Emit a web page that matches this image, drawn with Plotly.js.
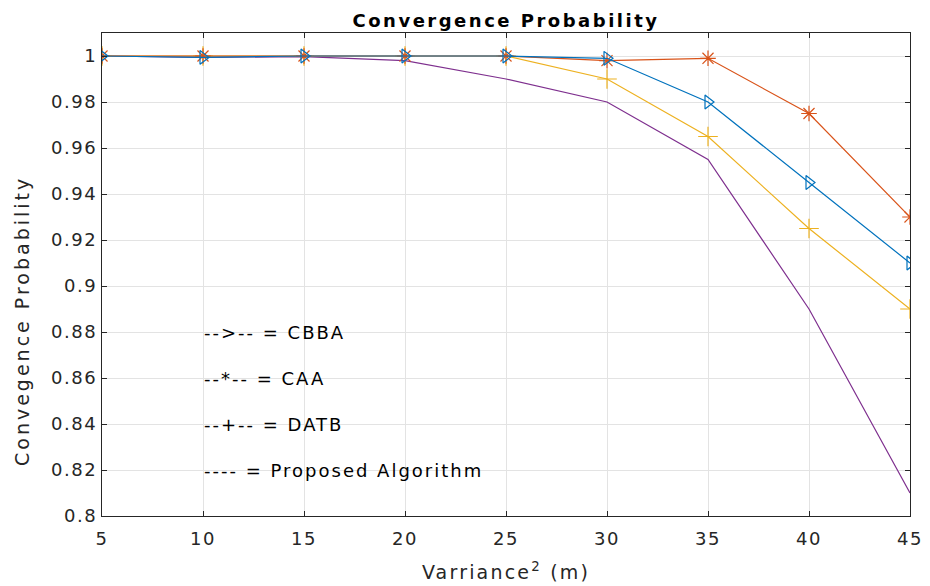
<!DOCTYPE html>
<html>
<head>
<meta charset="utf-8">
<script src="https://cdn.plot.ly/plotly-3.0.1.min.js"></script>
<style>
html,body{margin:0;padding:0;background:#fff;}
#chart{width:930px;height:586px;}
#chart .xtick text, #chart .ytick text{letter-spacing:1.6px;}
#chart text[data-unformatted*=" = "]{letter-spacing:2px;}
#chart text[data-unformatted*="Convergence"]{letter-spacing:2.5px;}
#chart text[data-unformatted^="Varriance"]{letter-spacing:2.2px;}
#chart text[data-unformatted^="Convegence"]{letter-spacing:3px;}
</style>
</head>
<body>
<div id="chart"></div>
<script>
const variance = [5, 10, 15, 20, 25, 30, 35, 40, 45];
const cbba     = [1, 0.9994, 1, 1, 1, 0.999, 0.98, 0.945, 0.91];
const caa      = [1, 1, 1, 1, 1, 0.998, 0.999, 0.975, 0.93];
const datb     = [1, 1, 1, 1, 1, 0.99, 0.965, 0.925, 0.89];
const proposed = [1, 0.9994, 0.9997, 0.998, 0.99, 0.98, 0.955, 0.89, 0.81];

const yTickVals = [0.8, 0.82, 0.84, 0.86, 0.88, 0.9, 0.92, 0.94, 0.96, 0.98, 1];
const yTickText = ["0.8", "0.82", "0.84", "0.86", "0.88", "0.9", "0.92", "0.94", "0.96", "0.98", "1"];
const xTickVals = [5, 10, 15, 20, 25, 30, 35, 40, 45];
const xTickText = ["5", "10", "15", "20", "25", "30", "35", "40", "45"];

const legendLabels = ["-->-- = CBBA", "--*-- = CAA", "--+-- = DATB", "---- = Proposed Algorithm"];
const legendX = [10, 10, 10, 10];
const legendY = [0.88, 0.86, 0.84, 0.82];

const titleText = "Convergence Probability";
const xTitleText = "Varriance<sup>2</sup> (m)";
const yTitleText = "Convegence Probability";

const FONT = "DejaVu Sans, Liberation Sans, Arial, sans-serif";
const TXT = "#262626";

const traces = [
  {x: variance, y: proposed, mode: "lines", line: {color: "#7E2F8E", width: 1.2}, name: "Proposed"},
  {x: variance, y: datb, mode: "lines+markers", line: {color: "#EDB120", width: 1.2},
   marker: {symbol: "cross-thin-open", size: 14, line: {color: "#EDB120", width: 1.2}}, name: "DATB"},
  {x: variance, y: caa, mode: "lines+markers", line: {color: "#D95319", width: 1.2},
   marker: {symbol: "asterisk-open", size: 13, line: {color: "#D95319", width: 1.2}}, name: "CAA"},
  {x: variance, y: cbba, mode: "lines+markers", line: {color: "#0072BD", width: 1.2},
   marker: {symbol: "triangle-right-open", size: 12, line: {color: "#0072BD", width: 1.2}}, name: "CBBA"}
];

const annotations = legendLabels.map((t, i) => ({
  x: legendX[i], y: legendY[i], xref: "x", yref: "y", text: t, showarrow: false,
  xanchor: "left", yanchor: "middle", align: "left", borderpad: 0,
  font: {family: FONT, size: 18, color: "#000"}
}));
annotations.push({
  x: -(102 - 22) / 808, y: (516 - 321) / 483, xref: "paper", yref: "paper",
  text: yTitleText, showarrow: false, textangle: -90, xanchor: "center", yanchor: "middle",
  font: {family: FONT, size: 19, color: TXT}
});

const axisCommon = {
  showline: true, linecolor: "#262626", linewidth: 1, mirror: "ticks",
  ticks: "inside", ticklen: 5, tickcolor: "#262626", tickwidth: 1,
  showgrid: true, gridcolor: "#e3e3e3", gridwidth: 1, zeroline: false,
  tickfont: {family: FONT, size: 18, color: TXT}
};

const layout = {
  width: 930, height: 586,
  margin: {l: 102, r: 20, t: 33, b: 70},
  paper_bgcolor: "#ffffff", plot_bgcolor: "#ffffff",
  showlegend: false,
  title: {text: "<b>" + titleText + "</b>", x: 506 / 930, xref: "container", xanchor: "center",
          y: 1 - 21 / 586, yref: "container", yanchor: "middle",
          font: {family: FONT, size: 18, color: "#000"}},
  xaxis: Object.assign({}, axisCommon, {
    range: [5, 45], tickmode: "array", tickvals: xTickVals, ticktext: xTickText,
    ticklabelstandoff: 6,
    title: {text: xTitleText, standoff: 18, font: {family: FONT, size: 19, color: TXT}}
  }),
  yaxis: Object.assign({}, axisCommon, {
    range: [0.8, 1.01], tickmode: "array", tickvals: yTickVals, ticktext: yTickText
  }),
  annotations: annotations
};

Plotly.newPlot("chart", traces, layout, {staticPlot: true, displayModeBar: false});
</script>
</body>
</html>
